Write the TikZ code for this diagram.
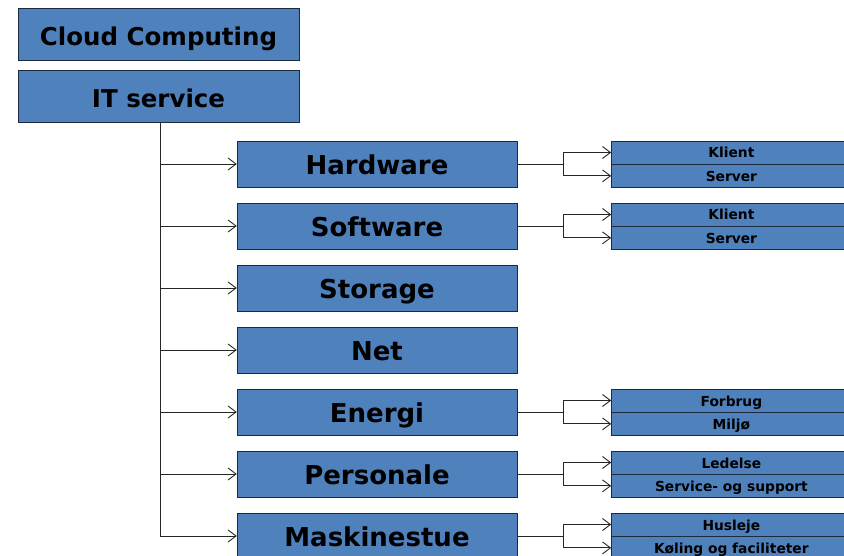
\documentclass[tikz,border=0pt]{standalone}
\usepackage{fontspec}
\setmainfont{DejaVu Sans}
\usetikzlibrary{%
  calc,
  positioning,
  arrows.meta,
}
\definecolor{boxblue}{HTML}{4F81BD}
\definecolor{boxline}{HTML}{1C2A40}

\begin{document}
\begin{tikzpicture}[x=1pt, y=-1pt,
  every node/.style = {font=\bfseries, text=black},
  topbox/.style = {draw=boxline, fill=boxblue,
    minimum width=281pt, minimum height=52pt,
    text height=23pt, text depth=0pt,
    inner sep=0pt, font=\fontsize{24.5}{24.5}\bfseries},
  mainbox/.style = {draw=boxline, fill=boxblue,
    minimum width=280pt, minimum height=46pt,
    text height=21pt, text depth=0pt,
    inner sep=0pt, font=\fontsize{26}{26}\bfseries},
  subbox/.style = {draw=boxline, fill=boxblue,
    minimum width=240pt, minimum height=23pt,
    text height=11pt, text depth=0pt,
    inner sep=0pt, font=\fontsize{13.8}{13.8}\bfseries},
  link/.style = {draw=black!85, line width=0.9pt},
  >={Straight Barb[length=8pt, width=12pt]},
]
  \clip (0,0) rectangle (844,556);
  \useasboundingbox (0,0) rectangle (844,556);

  \node[topbox] (cloud) at (158.5,34) {Cloud Computing};
  \node[topbox] (itservice) at (158.5,96) {IT service};

  % main column
  \node[mainbox] (hw) at (377,164) {Hardware};
  \node[mainbox] (sw) at (377,226) {Software};
  \node[mainbox] (storage) at (377,288) {Storage};
  \node[mainbox] (net) at (377,350) {Net};
  \node[mainbox] (energi) at (377,412) {Energi};
  \node[mainbox] (personale) at (377,474) {Personale};
  \node[mainbox] (maskine) at (377,536) {Maskinestue};

  % sub boxes, no units = pt
  \node[subbox, anchor=north west] (hwA)
    at ([xshift=94pt]hw.north east) {Klient};
  \node[subbox, below=0pt of hwA] (hwB) {Server};
  \node[subbox, anchor=north west] (swA)
    at ([xshift=94pt]sw.north east) {Klient};
  \node[subbox, below=0pt of swA] (swB) {Server};
  \node[subbox, anchor=north west] (enA)
    at ([xshift=94pt]energi.north east) {Forbrug};
  \node[subbox, below=0pt of enA] (enB) {Miljø};
  \node[subbox, anchor=north west] (peA)
    at ([xshift=94pt]personale.north east) {Ledelse};
  \node[subbox, below=0pt of peA] (peB) {Service- og support};
  \node[subbox, anchor=north west] (maA)
    at ([xshift=94pt]maskine.north east) {Husleje};
  \node[subbox, below=0pt of maA] (maB) {Køling og faciliteter};

  % trunk
  \coordinate (trunk) at ([xshift=1.5pt]itservice.south);
  \draw[link] (trunk) -- (trunk |- maskine.west);
  \foreach \m in {hw, sw, storage, net, energi, personale, maskine} {
    \draw[link, ->] (trunk |- \m.west) -- (\m.west);
  }

  % forks to sub boxes
  \foreach \m/\a/\b in {hw/hwA/hwB, sw/swA/swB, energi/enA/enB,
      personale/peA/peB, maskine/maA/maB} {
    \draw[link] (\m.east) -- ++(46pt,0) coordinate (\m fork);
    \draw[link, ->] (\m fork) |- (\a.west);
    \draw[link, ->] (\m fork) |- (\b.west);
  }
\end{tikzpicture}
\end{document}
